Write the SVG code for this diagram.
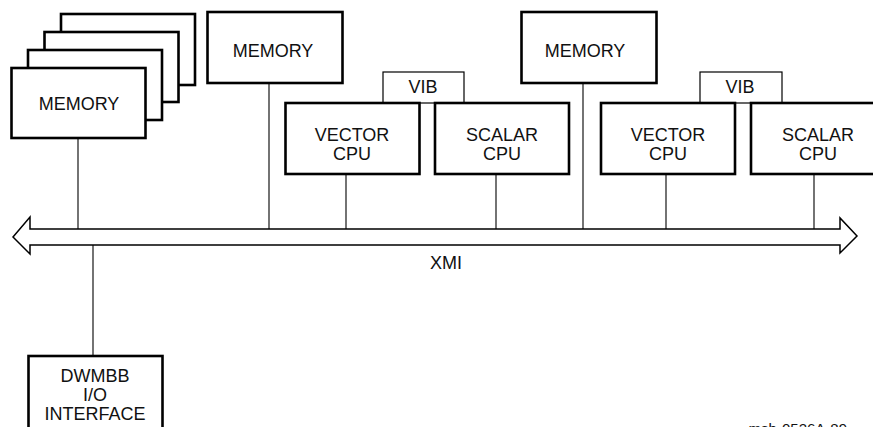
<svg xmlns="http://www.w3.org/2000/svg" width="873" height="427" viewBox="0 0 873 427">
<style>
.box{fill:#fff;stroke:#000;stroke-width:2.6}
.thin{fill:#fff;stroke:#000;stroke-width:1.2}
.ln{stroke:#000;stroke-width:1.1;fill:none}
text{font-family:"Liberation Sans",Arial,sans-serif;font-size:18px;fill:#111;text-anchor:middle}
</style>
<rect width="873" height="427" fill="#fff"/>
<g id="memory-stack">
<rect class="box" x="61" y="14" width="134" height="71"/>
<rect class="box" x="44.5" y="32" width="134" height="70"/>
<rect class="box" x="28" y="50" width="134" height="70"/>
<rect class="box" x="11.5" y="68" width="134" height="70"/>
<text x="79" y="110">MEMORY</text>
</g>
<g id="memory2">
<rect class="box" x="207.5" y="12" width="135" height="71"/>
<text x="273" y="57">MEMORY</text>
</g>
<g id="vib1">
<rect class="thin" x="383" y="72" width="81" height="31"/>
<text x="423" y="93">VIB</text>
</g>
<g id="vector-cpu1">
<rect class="box" x="285.5" y="103" width="134" height="71"/>
<text x="352" y="141">VECTOR</text>
<text x="352" y="160">CPU</text>
</g>
<g id="scalar-cpu1">
<rect class="box" x="435" y="103" width="134" height="71"/>
<text x="502" y="141">SCALAR</text>
<text x="502" y="160">CPU</text>
</g>
<g id="memory3">
<rect class="box" x="521.5" y="12" width="135" height="71"/>
<text x="585" y="57">MEMORY</text>
</g>
<g id="vib2">
<rect class="thin" x="700" y="72" width="82" height="31"/>
<text x="740" y="93">VIB</text>
</g>
<g id="vector-cpu2">
<rect class="box" x="601" y="103" width="134" height="71"/>
<text x="668" y="141">VECTOR</text>
<text x="668" y="160">CPU</text>
</g>
<g id="scalar-cpu2">
<rect class="box" x="751" y="103" width="136" height="71"/>
<text x="818" y="141">SCALAR</text>
<text x="818" y="160">CPU</text>
</g>
<g id="xmi">
<polygon points="13,237 30,217 30,229 840,229 840,218 857,236 840,253 840,245 30,245 30,254" fill="#fff" stroke="#000" stroke-width="1.5" stroke-linejoin="miter"/>
<text x="446" y="269">XMI</text>
</g>
<g id="dwmbb">
<rect class="box" x="28.5" y="356" width="134" height="80"/>
<text x="95" y="382">DWMBB</text>
<text x="95" y="401">I/O</text>
<text x="95" y="420">INTERFACE</text>
</g>
<g id="connectors">
<line class="ln" x1="78" y1="139" x2="78" y2="229"/>
<line class="ln" x1="269" y1="84" x2="269" y2="229"/>
<line class="ln" x1="346" y1="175" x2="346" y2="229"/>
<line class="ln" x1="496" y1="175" x2="496" y2="229"/>
<line class="ln" x1="583" y1="84" x2="583" y2="229"/>
<line class="ln" x1="666" y1="175" x2="666" y2="229"/>
<line class="ln" x1="814" y1="175" x2="814" y2="229"/>
<line class="ln" x1="93" y1="245" x2="93" y2="356"/>
</g>
<text x="847" y="434" style="font-size:15px;text-anchor:end">msb-0526A-89</text>
</svg>
